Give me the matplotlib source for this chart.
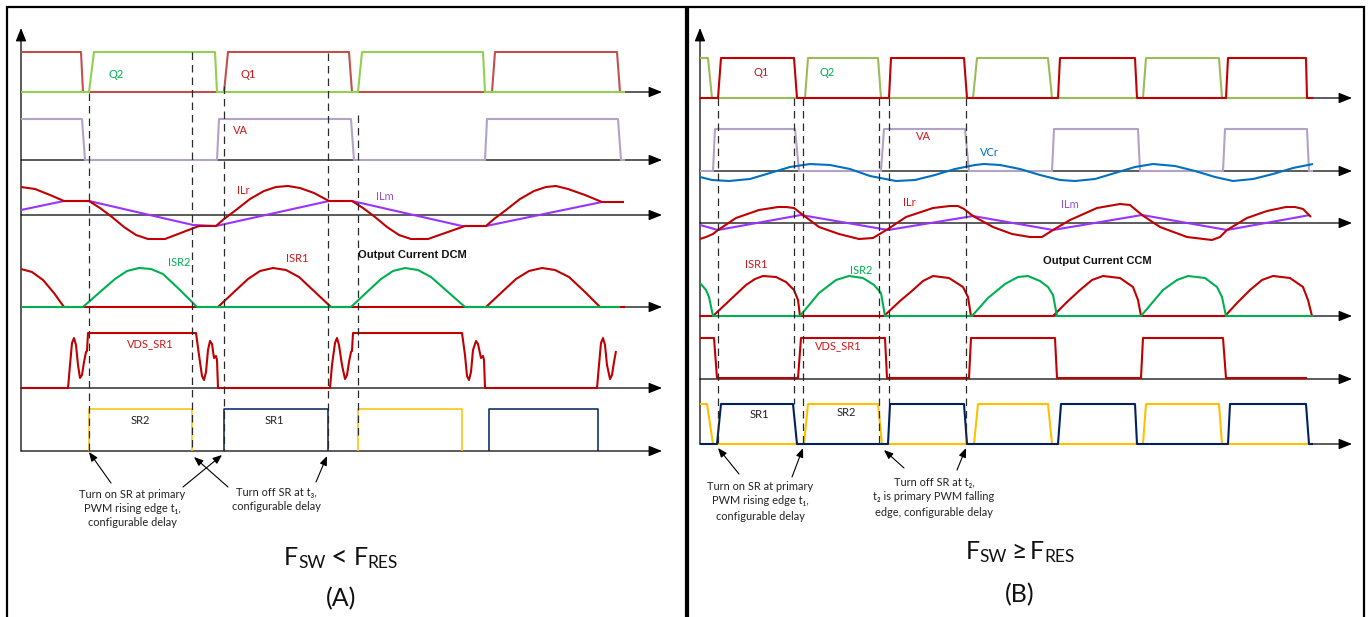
import matplotlib
matplotlib.use('Agg')
import matplotlib.pyplot as plt

# ---------------- data (pixel coordinates of the schematic) ----------------
# Panel A  (F_SW < F_RES, DCM)
A_AXES_Y = [92, 160, 215, 307, 388, 451]
A_X0, A_X1, A_TOP = 21, 662, 28

Q1_A_X = [21, 81, 83, 224, 228, 349, 352, 492, 495, 617, 620, 625]
Q1_A_Y = [52, 52, 92, 92, 52, 52, 92, 92, 52, 52, 92, 92]
Q2_A_X = [21, 89, 94, 215, 217, 358, 362, 483, 485, 625]
Q2_A_Y = [92, 92, 52, 52, 92, 92, 52, 52, 92, 92]
VA_A_X = [21, 82, 85, 217, 219, 351, 354, 485, 487, 618, 621, 625]
VA_A_Y = [119, 119, 160, 160, 119, 119, 160, 160, 119, 119, 160, 160]

ILR_A = [(21, 187), (35, 189), (50, 195), (64, 201), (89, 201), (100, 208), (112, 217),
         (124, 227), (136, 235), (148, 239), (165, 239), (199, 226), (216, 226), (224, 219),
         (236, 210), (250, 199), (264, 191), (276, 187), (288, 186), (300, 188), (314, 193),
         (329, 201), (352, 201), (363, 208), (375, 217), (387, 227), (399, 235), (411, 239),
         (428, 239), (465, 226), (486, 226), (494, 219), (506, 210), (520, 199), (534, 191),
         (546, 187), (556, 186), (568, 189), (585, 195), (602, 202), (624, 202)]
ILM_A = [(21, 210), (64, 201), (89, 201), (193, 225), (216, 226), (329, 201), (352, 201),
         (462, 226), (486, 226), (602, 202)]

ISR1_A = [(21, 269), (32, 272), (43, 280), (54, 293), (64, 307), (218, 307), (234, 292),
          (248, 279), (260, 271), (273, 268), (286, 270), (299, 277), (315, 292), (331, 307),
          (486, 307), (502, 292), (516, 279), (529, 271), (542, 268), (555, 270), (569, 277),
          (585, 292), (600, 307), (625, 307)]
ISR2_A = [(21, 307), (83, 307), (100, 292), (115, 279), (127, 271), (139, 268), (151, 269),
          (163, 274), (180, 290), (197, 307), (351, 307), (367, 292), (381, 279), (393, 271),
          (405, 268), (418, 270), (431, 277), (448, 292), (465, 307), (620, 307)]

VDS_A = [(21, 388), (68, 388), (70, 365), (72, 343), (74, 338), (76, 345), (78, 365), (80, 378),
         (82, 375), (84, 362), (86, 352), (87, 351), (88, 333), (196, 333), (199, 355), (202, 376),
         (204, 380), (206, 372), (208, 350), (210, 341), (212, 344), (214, 358), (216, 356),
         (217, 360), (218, 388), (330, 388), (332, 365), (335, 343), (337, 338), (339, 345),
         (342, 365), (345, 379), (347, 375), (349, 362), (351, 352), (352, 351), (353, 333),
         (462, 333), (465, 355), (467, 376), (469, 380), (471, 372), (473, 350), (476, 341),
         (478, 344), (481, 358), (483, 356), (484, 360), (485, 388), (597, 388), (599, 365),
         (601, 343), (603, 338), (605, 345), (607, 365), (610, 379), (612, 375), (614, 362),
         (616, 351)]

SR_A_HIGH, SR_A_LOW = 409, 451
SR2_A_EDGES = [(89, 192), (358, 462)]
SR1_A_EDGES = [(224, 328), (489, 598)]

A_DASH_X = [89, 192, 224, 328, 358]
A_DASH_TOP = [93, 52, 86, 53, 115]
A_DASH_BOT = [451, 451, 451, 451, 436]

# Panel B  (F_SW >= F_RES, CCM)
B_AXES_Y = [98, 171, 223, 316, 379, 444]
B_X0, B_X1, B_TOP = 700, 1352, 28

Q2_B_X = [700, 708, 712, 805, 808, 878, 881, 973, 977, 1048, 1052, 1143, 1146, 1219, 1222, 1310]
Q2_B_Y = [58, 58, 98, 98, 58, 58, 98, 98, 58, 58, 98, 98, 58, 58, 98, 98]
Q1_B_X = [700, 718, 721, 794, 797, 889, 891, 964, 967, 1058, 1060, 1135, 1137, 1226, 1228, 1306, 1307, 1313]
Q1_B_Y = [98, 98, 58, 58, 98, 98, 58, 58, 98, 98, 58, 58, 98, 98, 58, 58, 98, 98]
VA_B_X = [700, 713, 715, 795, 799, 881, 884, 965, 969, 1052, 1054, 1138, 1140, 1223, 1225, 1307, 1309, 1313]
VA_B_Y = [171, 171, 129, 129, 171, 171, 129, 129, 171, 171, 129, 129, 171, 171, 129, 129, 171, 171]

VCR_B = [(700, 177), (712, 180), (729, 181), (750, 179), (770, 173), (790, 167), (810, 164),
         (830, 165), (850, 169), (870, 176), (896, 181), (915, 180), (935, 175), (955, 169),
         (975, 165), (984, 164), (1000, 165), (1020, 169), (1040, 175), (1060, 180), (1075, 181),
         (1095, 179), (1115, 173), (1135, 167), (1153, 164), (1175, 166), (1195, 171), (1215, 177),
         (1233, 181), (1253, 179), (1273, 174), (1293, 168), (1313, 164)]

ILM_B = [(700, 225), (718, 230), (801, 215), (888, 230), (973, 216), (1053, 230), (1142, 215),
         (1227, 230), (1310, 215)]
ILR_B = [(700, 239), (706, 237), (713, 234), (718, 230), (736, 218), (759, 210), (778, 207),
         (786, 207), (794, 208), (803, 215), (819, 227), (839, 234), (859, 239), (873, 238),
         (888, 229), (906, 217), (933, 208), (950, 206), (958, 206), (964, 209), (973, 216),
         (993, 227), (1012, 234), (1030, 237), (1042, 237), (1053, 230), (1070, 220), (1097, 208),
         (1120, 204), (1130, 205), (1142, 215), (1160, 227), (1187, 237), (1212, 240), (1220, 237),
         (1227, 230), (1247, 218), (1267, 211), (1286, 207), (1295, 207), (1303, 209), (1311, 217)]

ISR1_B = [(700, 316), (713, 316), (730, 300), (746, 285), (755, 279), (763, 276), (776, 277),
          (786, 282), (794, 290), (798, 300), (800, 316), (884, 316), (900, 301), (913, 290),
          (923, 281), (933, 276), (949, 278), (963, 287), (968, 297), (971, 316), (1053, 316),
          (1067, 302), (1080, 290), (1092, 280), (1103, 276), (1120, 278), (1133, 287), (1138, 300),
          (1141, 316), (1225, 316), (1238, 302), (1250, 290), (1262, 280), (1273, 276), (1290, 278),
          (1303, 287), (1308, 300), (1312, 316)]
ISR2_B = [(700, 283), (706, 290), (709, 297), (713, 316), (800, 316), (819, 293), (836, 280),
          (849, 276), (863, 278), (874, 285), (881, 293), (885, 316), (972, 316), (988, 298),
          (1005, 284), (1018, 277), (1028, 276), (1040, 281), (1048, 287), (1053, 295), (1057, 316),
          (1141, 316), (1163, 290), (1177, 280), (1188, 276), (1205, 278), (1217, 287), (1222, 297),
          (1226, 316), (1313, 316)]

VDS_B_X = [700, 714, 717, 798, 801, 885, 887, 969, 971, 1055, 1057, 1141, 1143, 1223, 1226, 1307]
VDS_B_Y = [338, 338, 378, 378, 338, 338, 378, 378, 338, 338, 378, 378, 338, 338, 378, 378]

SR2_B_X = [700, 707, 713, 804, 808, 878, 882, 974, 978, 1048, 1052, 1143, 1146, 1219, 1222, 1313]
SR2_B_Y = [404, 404, 444, 444, 404, 404, 444, 444, 404, 404, 444, 444, 404, 404, 444, 444]
SR1_B_X = [700, 717, 721, 793, 797, 888, 890, 964, 967, 1058, 1061, 1135, 1137, 1228, 1230, 1306, 1309, 1313]
SR1_B_Y = [444, 444, 404, 404, 444, 444, 404, 404, 444, 444, 404, 404, 444, 444, 404, 404, 444, 444]

B_DASH_X = [718, 794, 803, 879, 889, 966]
B_DASH_TOP = [98, 98, 98, 98, 98, 98]
B_DASH_BOT = [448, 404, 444, 444, 404, 444]

# waveform labels: (x, y, text, colour)
RED, BRICK, LGREEN, OLIVE = '#C00000', '#C0504D', '#92D050', '#9BBB59'
GREEN, LAV, PURPLE = '#00B050', '#B3A2C7', '#9933FF'
YEL, NAVY, BLUE = '#FFC000', '#002060', '#0070C0'
LBL_RED, LBL_GREEN, LBL_PURP = '#D01818', '#00B050', '#9B4FD6'

A_LABELS = [(116, 74, 'Q2', LBL_GREEN), (248, 74, 'Q1', LBL_RED), (240, 131, 'VA', LBL_RED),
            (243, 190, 'ILr', LBL_RED), (385, 197, 'ILm', LBL_PURP), (179, 262, 'ISR2', LBL_GREEN),
            (297, 259, 'ISR1', LBL_RED), (150, 344, 'VDS_SR1', LBL_RED),
            (140, 420, 'SR2', '#222222'), (274, 420, 'SR1', '#222222')]
B_LABELS = [(761, 73, 'Q1', LBL_RED), (827, 73, 'Q2', LBL_GREEN), (923, 137, 'VA', LBL_RED),
            (989, 152, 'VCr', BLUE), (909, 203, 'ILr', LBL_RED), (1070, 204, 'ILm', LBL_PURP),
            (756, 264, 'ISR1', LBL_RED), (861, 271, 'ISR2', LBL_GREEN),
            (838, 346, 'VDS_SR1', LBL_RED), (759, 414, 'SR1', '#222222'), (846, 413, 'SR2', '#222222')]

MODE_TEXT = [(358, 255, 'Output Current DCM'), (1043, 261, 'Output Current CCM')]

NOTES = [(132, [494, 509, 523], ['Turn on SR at primary', 'PWM rising edge t\u2081,', 'configurable delay']),
         (276, [492, 507], ['Turn off SR at t\u2083,', 'configurable delay']),
         (760, [487, 501, 516], ['Turn on SR at primary', 'PWM rising edge t\u2081,', 'configurable delay']),
         (934, [483, 497, 512], ['Turn off SR at t\u2082,', 't\u2082 is primary PWM falling',
                                 'edge, configurable delay'])]
NOTE_ARROWS = [((111, 483), (89, 452)), ((183, 487), (222, 455)), ((228, 487), (194, 457)),
               ((316, 482), (327, 456)), ((739, 474), (718, 448)), ((792, 477), (803, 448)),
               ((904, 468), (884, 450)), ((957, 470), (966, 448))]

# title pieces: (text, fontsize, baseline shift px, gap after px)
TITLE_A = [('F', 18, 0, 0), ('SW', 12.5, 2.5, 5), ('<', 21, 0, 6), ('F', 18, 0, 0), ('RES', 12.5, 2.5, 0)]
TITLE_B = [('F', 18, 0, 0), ('SW', 12.5, 2.5, 4), ('\u2265', 19, 0, 4), ('F', 18, 0, 0), ('RES', 12.5, 2.5, 0)]
TITLES = [(341, 565, TITLE_A, '(A)', 606), (1020, 559, TITLE_B, '(B)', 602)]

# ---------------- drawing ----------------
FAM = ['Lato', 'DejaVu Sans']
W, H = 1370, 617
fig = plt.figure(figsize=(13.7, 6.17), dpi=100)
ax = fig.add_axes([0, 0, 1, 1])
ax.set_xlim(0, W)
ax.set_ylim(H, 0)
ax.axis('off')

# panel borders
ax.plot([7, 7, 686.5, 686.5], [620, 7, 7, 620], color='black', lw=1.6, zorder=5,
        solid_joinstyle='miter')
ax.plot([688.5, 688.5, 1364, 1364], [620, 7, 7, 620], color='black', lw=1.6, zorder=5,
        solid_joinstyle='miter')


def axis_arrow(x0, y0, x1, y1, lw=0.9, hl=0.8, hw=0.32, color='black'):
    ax.annotate('', xy=(x1, y1), xytext=(x0, y0),
                arrowprops=dict(arrowstyle=f'-|>,head_length={hl},head_width={hw}',
                                lw=lw, color=color, shrinkA=0, shrinkB=0), zorder=1)


for ys, x0, x1, top in [(A_AXES_Y, A_X0, A_X1, A_TOP), (B_AXES_Y, B_X0, B_X1, B_TOP)]:
    for y in ys:
        axis_arrow(x0, y, x1, y)
    axis_arrow(x0, ys[-1], x0, top)


def wave(xs, ys, color, lw=1.5, z=2):
    ax.plot(xs, ys, color=color, lw=lw, zorder=z, solid_joinstyle='round', solid_capstyle='butt')


def wave_pts(pts, color, lw=1.5, z=2):
    wave([p[0] for p in pts], [p[1] for p in pts], color, lw, z)


# panel A
wave(Q1_A_X, Q1_A_Y, BRICK)
wave(Q2_A_X, Q2_A_Y, LGREEN)
wave(VA_A_X, VA_A_Y, LAV)
wave_pts(ILM_A, PURPLE)
wave_pts(ILR_A, RED, z=2.1)
wave_pts(ISR1_A, RED)
wave_pts(ISR2_A, GREEN)
wave_pts(VDS_A, RED)
for a, b in SR2_A_EDGES:
    wave([a, a, b, b], [SR_A_LOW, SR_A_HIGH, SR_A_HIGH, SR_A_LOW], YEL, lw=1.1)
for a, b in SR1_A_EDGES:
    wave([a, a, b, b], [SR_A_LOW, SR_A_HIGH, SR_A_HIGH, SR_A_LOW], NAVY, lw=1.1)

# panel B
wave(Q2_B_X, Q2_B_Y, OLIVE)
wave(Q1_B_X, Q1_B_Y, RED)
wave(VA_B_X, VA_B_Y, LAV)
wave_pts(VCR_B, BLUE)
wave_pts(ILM_B, PURPLE)
wave_pts(ILR_B, RED, z=2.1)
wave_pts(ISR1_B, RED)
wave_pts(ISR2_B, GREEN)
wave(VDS_B_X, VDS_B_Y, RED)
wave(SR2_B_X, SR2_B_Y, YEL)
wave(SR1_B_X, SR1_B_Y, NAVY)

# dashed markers
for xs, tops, bots in [(A_DASH_X, A_DASH_TOP, A_DASH_BOT), (B_DASH_X, B_DASH_TOP, B_DASH_BOT)]:
    for x, t, b in zip(xs, tops, bots):
        ax.plot([x, x], [t, b], color='#2a2a2a', lw=0.9, dashes=(6, 4), zorder=3)

# labels
for x, y, s, c in A_LABELS + B_LABELS:
    ax.text(x, y, s, color=c, fontsize=8, ha='center', va='center', family=FAM, zorder=4)
for x, y, s in MODE_TEXT:
    ax.text(x, y, s, color='#111111', fontsize=8, ha='left', va='center',
            family=['Liberation Sans', 'DejaVu Sans'], weight='bold', zorder=4)

for xc, ys, lines in NOTES:
    for y, s in zip(ys, lines):
        ax.text(xc, y, s, color='#222222', fontsize=7.9, ha='center', va='center', family=FAM, zorder=4)
for (x0, y0), (x1, y1) in NOTE_ARROWS:
    ax.annotate('', xy=(x1, y1), xytext=(x0, y0),
                arrowprops=dict(arrowstyle='-|>,head_length=0.55,head_width=0.22',
                                lw=0.8, color='black', shrinkA=0, shrinkB=0), zorder=4)

# titles
renderer = fig.canvas.get_renderer()
for xc, yb, parts, sub, yb2 in TITLES:
    items = []
    total = 0
    for s, fs, dy, gap in parts:
        t = ax.text(0, yb + dy, s, fontsize=fs, ha='left', va='baseline', family=FAM,
                    color='#111111', zorder=4)
        w = t.get_window_extent(renderer).width
        items.append((t, w, gap))
        total += w + gap
    x = xc - total / 2
    for t, w, gap in items:
        t.set_x(x)
        x += w + gap
    ax.text(xc, yb2, sub, fontsize=18, ha='center', va='baseline', family=FAM,
            color='#111111', zorder=4)

fig.savefig('out.png', dpi=100, facecolor='white')
